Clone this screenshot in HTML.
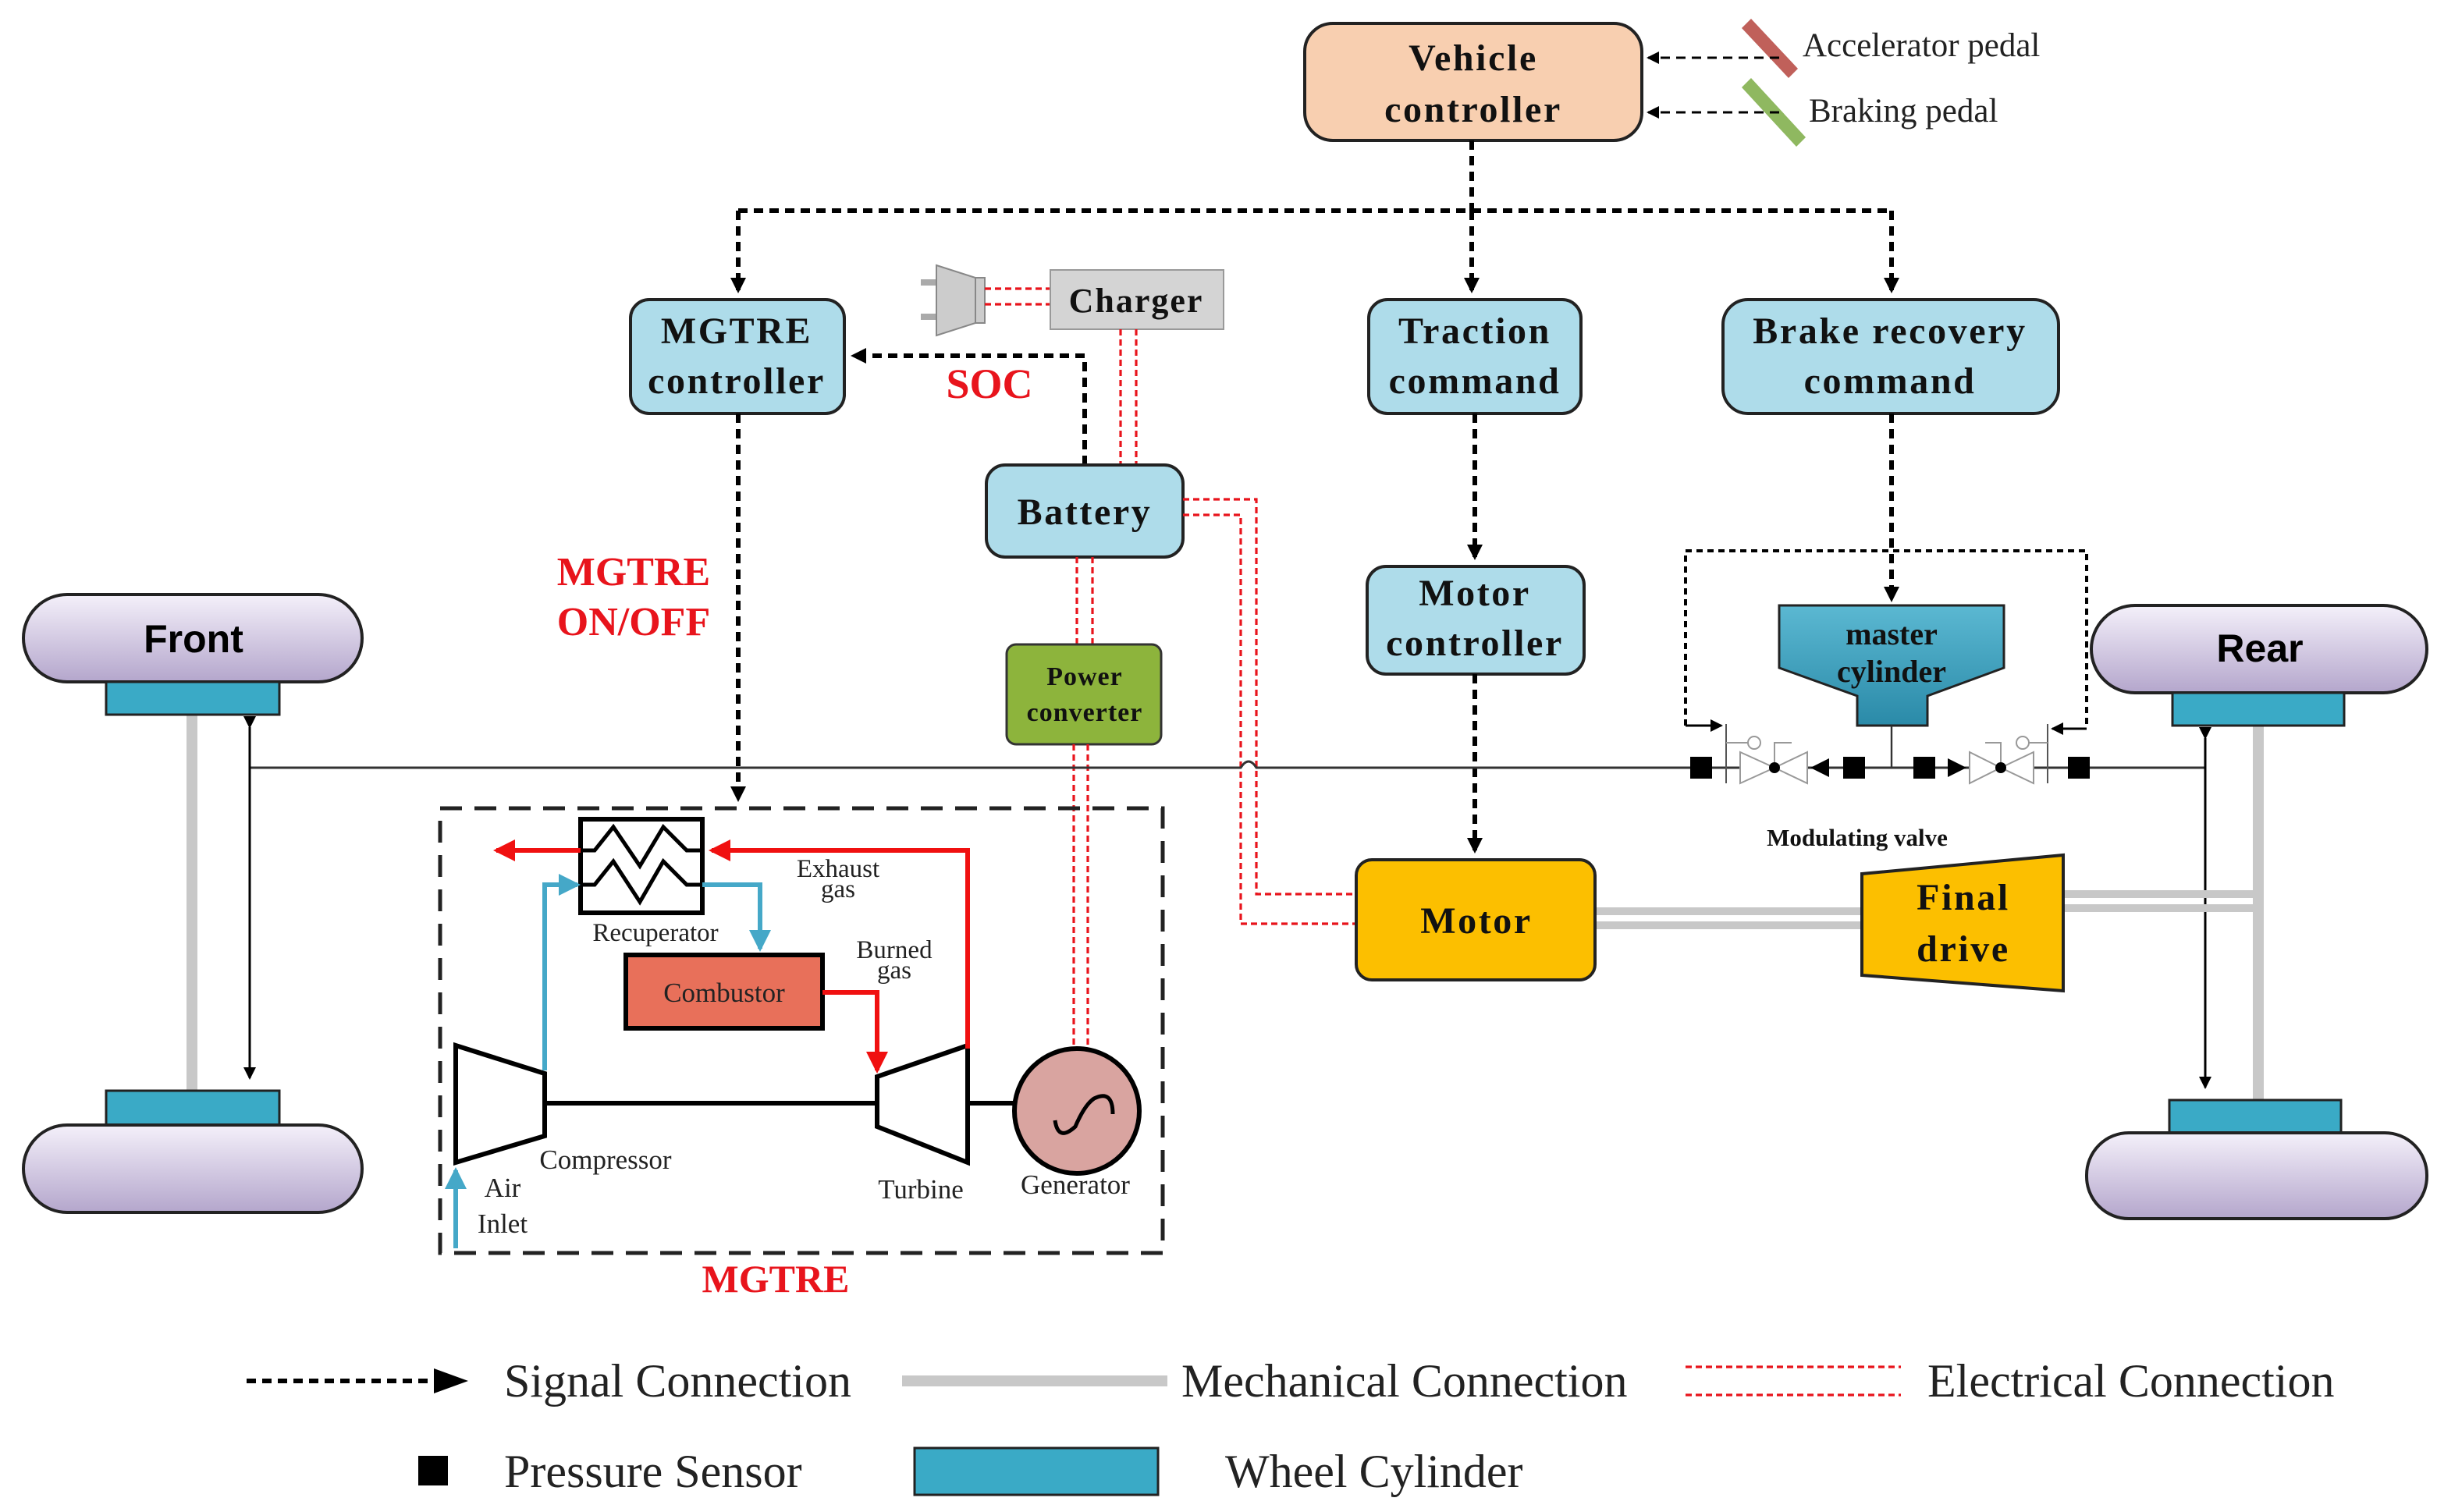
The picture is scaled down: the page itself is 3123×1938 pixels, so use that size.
<!DOCTYPE html>
<html><head><meta charset="utf-8"><style>
html,body{margin:0;padding:0;background:#fff}
svg{display:block}
.b{font-family:"Liberation Serif",serif;font-weight:bold;fill:#111}
.bx{font-family:"Liberation Serif",serif;font-weight:bold;fill:#111;font-size:24px;letter-spacing:1.3px}
.s{font-family:"Liberation Serif",serif;fill:#222}
.r{font-family:"Liberation Serif",serif;font-weight:bold;fill:#e8141c}
.sig{stroke:#000;stroke-width:3;stroke-dasharray:6,4;fill:none}
.el{stroke:#e8141c;stroke-width:1.6;stroke-dasharray:4,2.5;fill:none}
</style></head><body>
<svg width="3123" height="1938" viewBox="0 0 1561.5 969" xmlns="http://www.w3.org/2000/svg">
<defs>
<marker id="ah" markerWidth="10" markerHeight="10" refX="8" refY="5" orient="auto" markerUnits="userSpaceOnUse"><path d="M0,0 L10,5 L0,10 z" fill="#000"/></marker>
<marker id="ahs" markerWidth="8" markerHeight="8" refX="7" refY="4" orient="auto" markerUnits="userSpaceOnUse"><path d="M0,0 L8,4 L0,8 z" fill="#000"/></marker>
<marker id="ar" markerWidth="14" markerHeight="14" refX="12" refY="7" orient="auto" markerUnits="userSpaceOnUse"><path d="M0,0 L14,7 L0,14 z" fill="#f01010"/></marker>
<marker id="ab" markerWidth="14" markerHeight="14" refX="12" refY="7" orient="auto" markerUnits="userSpaceOnUse"><path d="M0,0 L14,7 L0,14 z" fill="#45a8c8"/></marker>
<linearGradient id="wh" x1="0" y1="0" x2="0" y2="1"><stop offset="0" stop-color="#f4f0fa"/><stop offset="1" stop-color="#b4a6cc"/></linearGradient>
<linearGradient id="mc" x1="0" y1="0" x2="0" y2="1"><stop offset="0" stop-color="#5bb8d2"/><stop offset="1" stop-color="#2a8aa8"/></linearGradient>
</defs>

<!-- Vehicle controller -->
<rect x="836" y="15" width="216" height="75" rx="18" fill="#f8cfb0" stroke="#222" stroke-width="2"/>
<text class="bx" x="944" y="45" text-anchor="middle">Vehicle</text>
<text class="bx" x="944" y="78" text-anchor="middle">controller</text>
<!-- pedals -->
<path d="M1116,18 L1122,12 L1152,44 L1146,50 z" fill="#c0605a"/>
<path d="M1116,56 L1122,50 L1157,88 L1151,94 z" fill="#8fb860"/>
<line x1="1140" y1="37" x2="1056" y2="37" stroke="#000" stroke-width="1.5" stroke-dasharray="6,4" marker-end="url(#ahs)"/>
<line x1="1140" y1="72" x2="1056" y2="72" stroke="#000" stroke-width="1.5" stroke-dasharray="6,4" marker-end="url(#ahs)"/>
<text class="s" x="1155" y="36" font-size="21.5">Accelerator pedal</text>
<text class="s" x="1159" y="78" font-size="21.5">Braking pedal</text>

<!-- signal tree -->
<path class="sig" d="M943,90 V135"/>
<path class="sig" d="M473,135 H1212"/>
<path class="sig" d="M473,135 V186" marker-end="url(#ah)"/>
<path class="sig" d="M943,135 V186" marker-end="url(#ah)"/>
<path class="sig" d="M1212,135 V186" marker-end="url(#ah)"/>

<rect x="404" y="192" width="137" height="73" rx="12" fill="#aedcea" stroke="#222" stroke-width="2"/>
<text class="bx" x="472" y="220" text-anchor="middle">MGTRE</text>
<text class="bx" x="472" y="252" text-anchor="middle">controller</text>
<rect x="877" y="192" width="136" height="73" rx="12" fill="#aedcea" stroke="#222" stroke-width="2"/>
<text class="bx" x="945" y="220" text-anchor="middle">Traction</text>
<text class="bx" x="945" y="252" text-anchor="middle">command</text>
<rect x="1104" y="192" width="215" height="73" rx="16" fill="#aedcea" stroke="#222" stroke-width="2"/>
<text class="bx" x="1211" y="220" text-anchor="middle">Brake recovery</text>
<text class="bx" x="1211" y="252" text-anchor="middle">command</text>

<!-- plug & charger -->
<path d="M600,181 L590,181 M600,203 L590,203" stroke="#aaa" stroke-width="4"/>
<path d="M600,170 L625,178 L625,207 L600,215 z" fill="#ccc" stroke="#888"/>
<rect x="625" y="178" width="6" height="29" fill="#ccc" stroke="#888"/>
<path class="el" d="M631,185 H673 M631,195 H673"/>
<rect x="673" y="173" width="111" height="38" fill="#d4d4d4" stroke="#999"/>
<text class="b" x="728" y="200" font-size="22" letter-spacing="1" text-anchor="middle">Charger</text>
<path class="el" d="M718,211 V298 M728,211 V298"/>
<path class="sig" d="M695,298 V228 H547" marker-end="url(#ah)"/>
<text class="r" x="634" y="255" font-size="27" text-anchor="middle">SOC</text>
<rect x="632" y="298" width="126" height="59" rx="12" fill="#aedcea" stroke="#222" stroke-width="2"/>
<text class="bx" x="695" y="336" text-anchor="middle">Battery</text>
<path class="el" d="M690,357 V413 M700,357 V413"/>
<rect x="645" y="413" width="99" height="64" rx="6" fill="#8db43c" stroke="#333" stroke-width="1.5"/>
<text class="b" x="695" y="439" font-size="17" letter-spacing="0.5" text-anchor="middle">Power</text>
<text class="b" x="695" y="462" font-size="17" letter-spacing="0.5" text-anchor="middle">converter</text>
<path class="el" d="M688,477 V675 M697,477 V675"/>
<path class="el" d="M758,320 H805 V573 H869 M758,330 H795 V592 H869"/>

<text class="r" x="406" y="375" font-size="26" text-anchor="middle">MGTRE</text>
<text class="r" x="406" y="407" font-size="26" text-anchor="middle">ON/OFF</text>
<path class="sig" d="M473,265 V512" marker-end="url(#ah)"/>

<rect x="876" y="363" width="139" height="69" rx="12" fill="#aedcea" stroke="#222" stroke-width="2"/>
<text class="bx" x="945" y="388" text-anchor="middle">Motor</text>
<text class="bx" x="945" y="420" text-anchor="middle">controller</text>
<path class="sig" d="M945,265 V357" marker-end="url(#ah)"/>
<path class="sig" d="M945,432 V545" marker-end="url(#ah)"/>

<path d="M160,492 H795 q5,-8 10,0 H1413" stroke="#333" stroke-width="1.5" fill="none"/>

<!-- Front wheels -->
<line x1="123" y1="458" x2="123" y2="699" stroke="#c8c8c8" stroke-width="7"/>
<line x1="160" y1="466" x2="160" y2="691" stroke="#000" stroke-width="1.5" marker-end="url(#ahs)" marker-start="url(#ahs)"/>
<rect x="15" y="381" width="217" height="56" rx="28" fill="url(#wh)" stroke="#222" stroke-width="2"/>
<text x="124" y="418" font-family="Liberation Sans,sans-serif" font-weight="bold" font-size="25" text-anchor="middle">Front</text>
<rect x="68" y="437" width="111" height="21" fill="#3aaac6" stroke="#222" stroke-width="1.5"/>
<rect x="68" y="699" width="111" height="22" fill="#3aaac6" stroke="#222" stroke-width="1.5"/>
<rect x="15" y="721" width="217" height="56" rx="28" fill="url(#wh)" stroke="#222" stroke-width="2"/>

<!-- Rear wheels -->
<line x1="1447" y1="465" x2="1447" y2="705" stroke="#c8c8c8" stroke-width="7"/>
<line x1="1413" y1="473" x2="1413" y2="697" stroke="#000" stroke-width="1.5" marker-end="url(#ahs)" marker-start="url(#ahs)"/>
<rect x="1340" y="388" width="215" height="56" rx="28" fill="url(#wh)" stroke="#222" stroke-width="2"/>
<text x="1448" y="424" font-family="Liberation Sans,sans-serif" font-weight="bold" font-size="25" text-anchor="middle">Rear</text>
<rect x="1392" y="444" width="110" height="21" fill="#3aaac6" stroke="#222" stroke-width="1.5"/>
<rect x="1390" y="705" width="110" height="21" fill="#3aaac6" stroke="#222" stroke-width="1.5"/>
<rect x="1337" y="726" width="218" height="55" rx="27" fill="url(#wh)" stroke="#222" stroke-width="2"/>

<!-- master cylinder -->
<path d="M1080,465 V353 H1337 V465" stroke="#000" stroke-width="2" stroke-dasharray="4,3" fill="none"/>
<path d="M1080,465 H1103" stroke="#000" stroke-width="1.5" marker-end="url(#ahs)"/>
<path d="M1337,467 H1315" stroke="#000" stroke-width="1.5" marker-end="url(#ahs)"/>
<path class="sig" d="M1212,265 V384" marker-end="url(#ah)"/>
<path d="M1140,388 H1284 V428 L1235,446 V465 H1190 V446 L1140,428 z" fill="url(#mc)" stroke="#222" stroke-width="1.5"/>
<text class="b" x="1212" y="413" font-size="20" text-anchor="middle" fill="#0c2a35">master</text>
<text class="b" x="1212" y="437" font-size="20" text-anchor="middle" fill="#0c2a35">cylinder</text>
<line x1="1212" y1="465" x2="1212" y2="492" stroke="#333" stroke-width="1.2"/>
<g stroke="#999" stroke-width="1" fill="#fff">
<path d="M1106,464 V502 M1312,464 V502" stroke="#555"/>
<path d="M1115,482 L1137,492 L1115,502 z M1158,482 L1137,492 L1158,502 z"/>
<path d="M1262,482 L1282,492 L1262,502 z M1303,482 L1282,492 L1303,502 z"/>
<path d="M1106,476 H1128 M1148,476 H1137 V492 M1312,476 H1292 M1272,476 H1282 V492" fill="none"/>
<circle cx="1124" cy="476" r="4"/><circle cx="1296" cy="476" r="4"/>
</g>
<circle cx="1137" cy="492" r="3.5" fill="#000"/><circle cx="1282" cy="492" r="3.5" fill="#000"/>
<path d="M1160,492 L1172,486 L1172,498 z M1260,492 L1248,486 L1248,498 z" fill="#000"/>
<rect x="1083" y="485" width="14" height="14" fill="#000"/>
<rect x="1181" y="485" width="14" height="14" fill="#000"/>
<rect x="1226" y="485" width="14" height="14" fill="#000"/>
<rect x="1325" y="485" width="14" height="14" fill="#000"/>
<text class="b" x="1190" y="542" font-size="15.5" text-anchor="middle">Modulating valve</text>

<!-- Motor & final drive -->
<path d="M1022,584 H1193 M1022,593 H1193" stroke="#c8c8c8" stroke-width="5"/>
<path d="M1322,573 H1447 M1322,582 H1447" stroke="#c8c8c8" stroke-width="5"/>
<rect x="869" y="551" width="153" height="77" rx="10" fill="#fcbf00" stroke="#222" stroke-width="2"/>
<text class="bx" x="946" y="598" text-anchor="middle">Motor</text>
<path d="M1193,560 L1322,548 L1322,635 L1193,625 z" fill="#fcbf00" stroke="#222" stroke-width="2"/>
<text class="bx" x="1258" y="583" text-anchor="middle">Final</text>
<text class="bx" x="1258" y="616" text-anchor="middle">drive</text>

<!-- MGTRE box -->
<rect x="282" y="518" width="463" height="285" fill="none" stroke="#222" stroke-width="2.5" stroke-dasharray="14,8"/>
<text class="r" x="497" y="828" font-size="25" text-anchor="middle">MGTRE</text>
<rect x="372" y="525" width="78" height="60" fill="#fff" stroke="#000" stroke-width="3"/>
<path d="M372,545 H381 L393,530 L410,555 L425,530 L440,545 H450" stroke="#000" stroke-width="2.5" fill="none"/>
<path d="M372,567 H381 L393,552 L410,578 L425,552 L440,567 H450" stroke="#000" stroke-width="2.5" fill="none"/>
<text class="s" x="420" y="603" font-size="16.5" text-anchor="middle">Recuperator</text>
<rect x="401" y="612" width="126" height="47" fill="#e8705a" stroke="#000" stroke-width="3"/>
<text class="s" x="464" y="642" font-size="17.5" text-anchor="middle" fill="#3a0a0a">Combustor</text>
<path d="M292,670 L349,688 L349,728 L292,745 z" fill="#fff" stroke="#000" stroke-width="3"/>
<path d="M620,670 L562,690 L562,722 L620,745 z" fill="#fff" stroke="#000" stroke-width="3"/>
<path d="M349,707 H562 M620,707 H651" stroke="#000" stroke-width="3"/>
<circle cx="690" cy="712" r="40" fill="#d9a4a0" stroke="#000" stroke-width="3"/>
<path d="M676,718 q2,14 13,4 q6,-14 12,-18 q12,-6 12,10" stroke="#000" stroke-width="2.5" fill="none"/>
<path d="M620,672 V545 H456" stroke="#f01010" stroke-width="3" fill="none" marker-end="url(#ar)"/>
<path d="M372,545 H318" stroke="#f01010" stroke-width="3" fill="none" marker-end="url(#ar)"/>
<path d="M527,636 H562 V686" stroke="#f01010" stroke-width="3" fill="none" marker-end="url(#ar)"/>
<path d="M349,686 V567 H370" stroke="#45a8c8" stroke-width="3" fill="none" marker-end="url(#ab)"/>
<path d="M450,567 H487 V608" stroke="#45a8c8" stroke-width="3" fill="none" marker-end="url(#ab)"/>
<path d="M292,800 V750" stroke="#45a8c8" stroke-width="3" fill="none" marker-end="url(#ab)"/>
<text class="s" x="537" y="562" font-size="16.5" text-anchor="middle">Exhaust</text>
<text class="s" x="537" y="575" font-size="16.5" text-anchor="middle">gas</text>
<text class="s" x="573" y="614" font-size="16.5" text-anchor="middle">Burned</text>
<text class="s" x="573" y="627" font-size="16.5" text-anchor="middle">gas</text>
<text class="s" x="388" y="749" font-size="17.5" text-anchor="middle">Compressor</text>
<text class="s" x="322" y="767" font-size="17.5" text-anchor="middle">Air</text>
<text class="s" x="322" y="790" font-size="17.5" text-anchor="middle">Inlet</text>
<text class="s" x="590" y="768" font-size="17.5" text-anchor="middle">Turbine</text>
<text class="s" x="689" y="765" font-size="17.5" text-anchor="middle">Generator</text>

<!-- Legend -->
<path d="M158,885 H278" stroke="#000" stroke-width="3" stroke-dasharray="6,4"/>
<path d="M278,877 L300,885 L278,893 z" fill="#000"/>
<text class="s" x="323" y="895" font-size="30">Signal Connection</text>
<path d="M578,885 H748" stroke="#c8c8c8" stroke-width="7"/>
<text class="s" x="757" y="895" font-size="30">Mechanical Connection</text>
<path class="el" d="M1080,876 H1218 M1080,894 H1218"/>
<text class="s" x="1235" y="895" font-size="30">Electrical Connection</text>
<rect x="268" y="933" width="19" height="19" fill="#000"/>
<text class="s" x="323" y="953" font-size="30">Pressure Sensor</text>
<rect x="586" y="928" width="156" height="30" fill="#3aaac6" stroke="#222" stroke-width="1.5"/>
<text class="s" x="785" y="953" font-size="30">Wheel Cylinder</text>
</svg>
</body></html>
